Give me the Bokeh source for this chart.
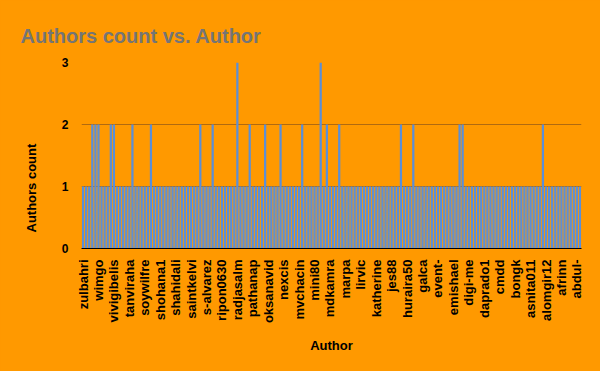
import math
from bokeh.plotting import figure
from bokeh.models import FixedTicker, Title, ColumnDataSource
from bokeh.embed import file_html
from bokeh.resources import INLINE

# ---- data ----
tick_labels = ["zulbahri", "wimgo", "vivigibelis", "tanviraha", "soywilfre", "shohana1",
               "shahidali", "saintkelvi", "s-alvarez", "ripon0630", "radjasalm", "pathanap",
               "oksanavid", "nexcis", "mvchacin", "mini80", "mdkamra", "marpa", "lirvic",
               "katherine", "jes88", "huraira50", "galca", "event-", "emishael", "digi-me",
               "daprado1", "cmdd", "bongk", "asnita011", "alomgir12", "afrinn", "abdul-"]
label_every = 5

authors_count = [
    1, 1, 1, 2, 2, 2, 1, 1, 1, 2,
    2, 1, 1, 1, 1, 1, 2, 1, 1, 1,
    1, 1, 2, 1, 1, 1, 1, 1, 1, 1,
    1, 1, 1, 1, 1, 1, 1, 1, 2, 1,
    1, 1, 2, 1, 1, 1, 1, 1, 1, 1,
    3, 1, 1, 1, 2, 1, 1, 1, 1, 2,
    1, 1, 1, 1, 2, 1, 1, 1, 1, 1,
    1, 2, 1, 1, 1, 1, 1, 3, 1, 2,
    1, 1, 1, 2, 1, 1, 1, 1, 1, 1,
    1, 1, 1, 1, 1, 1, 1, 1, 1, 1,
    1, 1, 1, 2, 1, 1, 1, 2, 1, 1,
    1, 1, 1, 1, 1, 1, 1, 1, 1, 1,
    1, 1, 2, 2, 1, 1, 1, 1, 1, 1,
    1, 1, 1, 1, 1, 1, 1, 1, 1, 1,
    1, 1, 1, 1, 1, 1, 1, 1, 1, 2,
    1, 1, 1, 1, 1, 1, 1, 1, 1, 1,
    1, 1,
]
y_ticks = [0, 1, 2, 3]

n = len(authors_count)
positions = list(range(n))
tick_positions = [i * label_every for i in range(len(tick_labels))]

BG = "#ff9900"
FONT = "Liberation Sans"

p = figure(width=600, height=371, output_backend="svg", toolbar_location=None,
           x_range=(-0.5, n - 0.5), y_range=(0, 3),
           min_border_left=81, min_border_right=19, min_border_top=62, min_border_bottom=123)
p.background_fill_color = BG
p.border_fill_color = BG
p.outline_line_color = None

src = ColumnDataSource(dict(x=positions, top=authors_count))
p.vbar(x="x", top="top", width=0.72, source=src, fill_color="#5b8fd8", line_color=None)

# grid
p.xgrid.grid_line_color = None
p.ygrid.grid_line_color = "#b06a10"
p.ygrid.grid_line_width = 1
p.ygrid.ticker = FixedTicker(ticks=[1, 2, 3])

# y axis
p.yaxis.ticker = FixedTicker(ticks=y_ticks)
p.yaxis.axis_line_color = None
p.yaxis.major_tick_line_color = None
p.yaxis.minor_tick_line_color = None
p.yaxis.major_label_text_font = FONT
p.yaxis.major_label_text_font_style = "bold"
p.yaxis.major_label_text_font_size = "12px"
p.yaxis.major_label_text_color = "#000000"
p.yaxis.major_label_standoff = 7

# x axis
p.xaxis.ticker = FixedTicker(ticks=tick_positions)
p.xaxis.major_label_overrides = {t: lab for t, lab in zip(tick_positions, tick_labels)}
p.xaxis.major_label_orientation = math.pi / 2
p.xaxis.axis_line_color = "#000000"
p.xaxis.major_tick_line_color = None
p.xaxis.minor_tick_line_color = None
p.xaxis.major_label_text_font = FONT
p.xaxis.major_label_text_font_style = "bold"
p.xaxis.major_label_text_font_size = "13px"
p.xaxis.major_label_text_color = "#000000"
p.xaxis.major_label_standoff = 5
p.xaxis.axis_label = "Author"
p.xaxis.axis_label_text_font = FONT
p.xaxis.axis_label_text_font_style = "bold"
p.xaxis.axis_label_text_font_size = "13px"
p.xaxis.axis_label_text_color = "#000000"
p.xaxis.axis_label_standoff = 12

# main title
p.title.text = "Authors count vs. Author"
p.title.align = "left"
p.title.offset = -61
p.title.standoff = 32
p.title.text_font = FONT
p.title.text_font_style = "bold"
p.title.text_font_size = "20px"
p.title.text_color = "#757575"

# y axis title (shifted down like the reference)
ytitle = Title(text="Authors count", align="left", offset=16, standoff=40,
               text_font=FONT, text_font_style="bold", text_font_size="13px",
               text_color="#000000")
p.add_layout(ytitle, "left")

html = file_html(p, INLINE)
html = html.replace("<head>", "<head><style>html, body {background:#ff9900;}</style>", 1)
open("out.html", "w").write(html)
